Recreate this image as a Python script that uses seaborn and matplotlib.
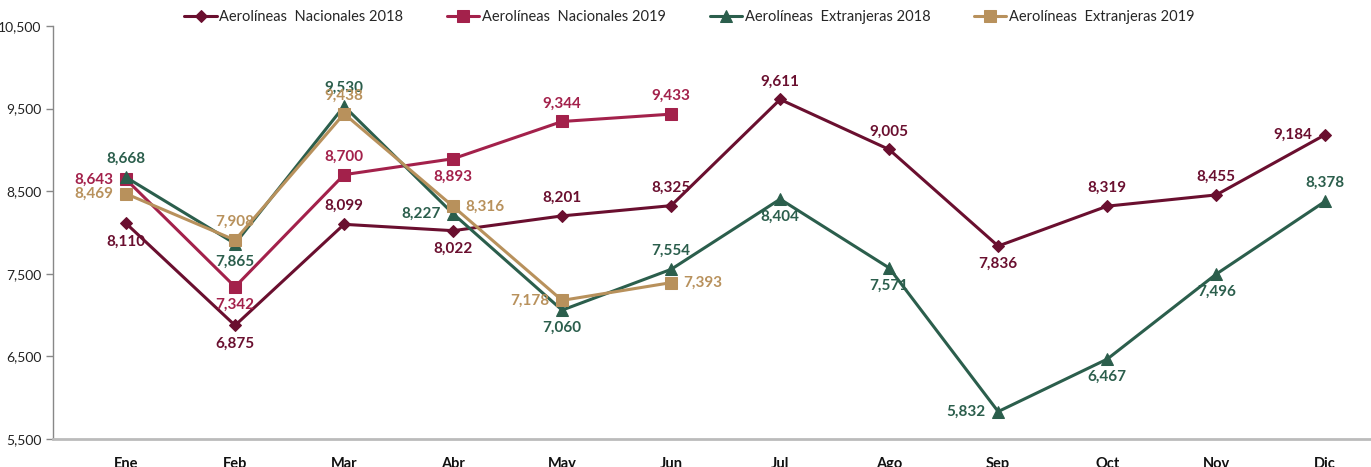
import matplotlib
matplotlib.use("Agg")
import matplotlib.pyplot as plt
import seaborn as sns
import numpy as np
import pandas as pd

months = ["Ene", "Feb", "Mar", "Abr", "May", "Jun", "Jul", "Ago", "Sep", "Oct", "Nov", "Dic"]
nac_2018 = [8110, 6875, 8099, 8022, 8201, 8325, 9611, 9005, 7836, 8319, 8455, 9184]
nac_2019 = [8643, 7342, 8700, 8893, 9344, 9433]
ext_2018 = [8668, 7865, 9530, 8227, 7060, 7554, 8404, 7571, 5832, 6467, 7496, 8378]
ext_2019 = [8469, 7908, 9438, 8316, 7178, 7393]
series_names = ["Aerolíneas  Nacionales 2018", "Aerolíneas  Nacionales 2019",
                "Aerolíneas  Extranjeras 2018", "Aerolíneas  Extranjeras 2019"]
yticks = [5500, 6500, 7500, 8500, 9500, 10500]

sns.set_theme(style="white")
plt.rcParams['font.family'] = ['Lato', 'DejaVu Sans']

colors = ["#6A0F2F", "#A3214B", "#2B5E4C", "#B8915C"]
markers = ["D", "s", "^", "s"]
msizes = [6, 8, 8, 8]
# label placement codes
places = [
    ["b", "b", "a", "b", "a", "a", "a", "a", "b", "a", "a", "l"],
    ["l", "b", "a", "b", "a", "a"],
    ["a", "b", "a", "l", "b", "a", "b", "b", "l", "b", "b", "a"],
    ["l", "a", "a", "r", "l", "r"],
]
all_vals = [nac_2018, nac_2019, ext_2018, ext_2019]

fig = plt.figure(figsize=(13.71, 4.67), dpi=100)
ax = fig.add_axes([53/1371, 28/467, 1 - 53/1371, (439-26)/467])

for i, (name, vals) in enumerate(zip(series_names, all_vals)):
    df = pd.DataFrame({"x": np.arange(len(vals)), "y": vals})
    sns.lineplot(data=df, x="x", y="y", ax=ax, color=colors[i], marker=markers[i],
                 markersize=msizes[i], markeredgecolor=colors[i], linewidth=2.2,
                 label=name, legend=True)
    for j, v in enumerate(vals):
        p = places[i][j]
        if p == "a":
            off, ha, va = (0, 8), "center", "bottom"
        elif p == "b":
            off, ha, va = (0, -8), "center", "top"
        elif p == "l":
            off, ha, va = (-9, 0), "right", "center"
        else:
            off, ha, va = (9, 0), "left", "center"
        ax.annotate(f"{v:,}", (j, v), xytext=off, textcoords="offset points",
                    ha=ha, va=va, fontsize=11, fontweight="bold", color=colors[i])

ax.set_xlim(-0.67, 11.42)
ax.set_ylim(5500, 10500)
ax.set_yticks(yticks)
ax.set_yticklabels([f"{t:,}" for t in yticks], fontsize=10, color="#222222")
ax.set_xticks(range(12))
ax.set_xticklabels(months, fontsize=10.5, fontweight="bold", color="#111111")
ax.set_xlabel("")
ax.set_ylabel("")
ax.tick_params(axis="y", which="both", left=True, length=5, color="#888888", width=1)
ax.tick_params(axis="x", bottom=False, pad=7)
for s in ["top", "right"]:
    ax.spines[s].set_visible(False)
ax.spines["left"].set_color("#888888")
ax.spines["left"].set_linewidth(1)
ax.spines["bottom"].set_color("#BBBBBB")
ax.spines["bottom"].set_linewidth(2)
ax.grid(False)

ax.legend(loc="upper center", bbox_to_anchor=(0.483, 1.07), ncol=4, frameon=False,
          fontsize=10.5, handlelength=2.2, handletextpad=0.2, columnspacing=3.0)

fig.savefig("out.png", dpi=100)
